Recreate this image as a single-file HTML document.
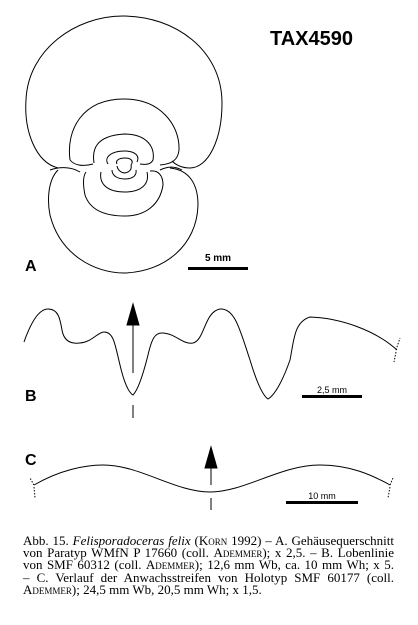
<!DOCTYPE html>
<html><head><meta charset="utf-8"><style>
html,body{margin:0;padding:0;background:#fff;}
#wrap{position:relative;width:418px;height:625px;overflow:hidden;}
svg{position:absolute;left:0;top:0;}
.cap{position:absolute;left:23px;top:535px;width:371px;font-family:"Liberation Serif",serif;font-size:13px;line-height:12.2px;color:#000;}
.cap div{text-align:justify;text-align-last:justify;white-space:nowrap;}
.cap div.last{text-align-last:left;}
.sc{font-variant:small-caps;}
</style></head><body>
<div id="wrap">
<svg width="418" height="625" viewBox="0 0 418 625" fill="none" stroke="#000" stroke-width="1">
<text x="270" y="45" font-family="Liberation Sans,sans-serif" font-weight="bold" font-size="20" fill="#000" stroke="none">TAX4590</text>
<g>
<path d="M58,168 C35,162 24,130 26,100 C28,50 75,16 123,16 C175,16 222,50 222,103 C222,140 208,168 190,168 C180,168 175,164 172,161"/>
<path d="M70,160 C66,130 82,99 124,99 C160,99 180,125 179,150 C178,160 172,164 160,165"/>
<path d="M70,160 C74,165 82,167 93,164"/>
<path d="M94,163 C92,150 95,136 124,134 C148,134 155,148 153,160 C151,164 147,165 140,164"/>
<path d="M108,164 C104,158 110,151 125,151 C135,151 140,156 137,162"/>
<path d="M117,164 C115,160 120,158 125,158 C131,158 134,161 131,165"/>
<path d="M117,166 C118,171 122,173 125,173 C130,172 132,169 131,165"/>
<path d="M58,170 C48,180 47,200 50,215 C60,255 95,273 124,273 C165,272 197,245 198,205 C198,185 190,170 170,168"/>
<path d="M86,172 C83,176 83,185 85,195 C90,210 105,216 125,216 C145,216 160,205 163,185 C163,175 158,170 150,171"/>
<path d="M101,172 C99,182 105,192 125,192 C140,192 150,185 147,172"/>
<path d="M112,170 C112,176 118,179 125,179 C132,179 137,176 136,170"/>
<path d="M50,170 C58,167 70,166 80,172"/><path d="M160,170 C168,166 175,166 182,170"/>
</g>
<text x="25" y="271" font-family="Liberation Sans,sans-serif" font-weight="bold" font-size="16" fill="#000" stroke="none">A</text>
<text x="218" y="261" text-anchor="middle" font-family="Liberation Sans,sans-serif" font-weight="bold" font-size="10" fill="#000" stroke="none">5 mm</text>
<rect x="188" y="267" width="60" height="3" fill="#000" stroke="none"/>
<g>
<path d="M24,342 C30,325 38,309 48,309 C58,309 60,318 62,330 C64,342 72,344 80,343 C92,342 98,332 104,332 C114,332 115,345 120,365 C124,382 128,392 133,395 C138,390 143,375 148,355 C152,338 155,333 162,333 C175,333 183,345 193,343 C205,340 204,312 220,309 C235,308 240,330 250,360 C256,380 262,395 268,399 C275,395 283,380 290,360 C294,340 294,322 310,317 C340,318 375,330 397,350"/>
<path d="M396,350 L400,338 M396,352 L394,362" stroke-dasharray="1.5,1.5"/>
<line x1="133" y1="373" x2="133" y2="320"/>
<polygon points="133,304 127,325 139,325" fill="#000"/>
<line x1="133" y1="405" x2="133" y2="418"/>
</g>
<text x="25" y="401" font-family="Liberation Sans,sans-serif" font-weight="bold" font-size="16" fill="#000" stroke="none">B</text>
<text x="332" y="393" text-anchor="middle" font-family="Liberation Sans,sans-serif" font-size="9" fill="#000" stroke="none">2,5 mm</text>
<rect x="302" y="395" width="60" height="3" fill="#000" stroke="none"/>
<g>
<path d="M34,485 C60,470 85,465 103,465 C140,465 175,492 210,492 C245,492 280,465 320,465 C350,465 372,475 390,485"/>
<path d="M34,485 L30,478 M34,487 L35,498 M390,485 L393,478 M390,487 L388,498" stroke-dasharray="1.5,1.5"/>
<line x1="211" y1="485" x2="211" y2="465"/>
<polygon points="211,447 205,468 217,468" fill="#000"/>
<line x1="211" y1="498" x2="211" y2="510"/>
</g>
<text x="25" y="465" font-family="Liberation Sans,sans-serif" font-weight="bold" font-size="16" fill="#000" stroke="none">C</text>
<text x="322" y="499" text-anchor="middle" font-family="Liberation Sans,sans-serif" font-size="9" fill="#000" stroke="none">10 mm</text>
<rect x="286" y="501" width="72" height="3" fill="#000" stroke="none"/>
</svg>
<div class="cap">
<div>Abb. 15. <i>Felisporadoceras felix</i> (<span class="sc">Korn</span> 1992) – A. Gehäusequerschnitt</div>
<div>von Paratyp WMfN P 17660 (coll. <span class="sc">Ademmer</span>); x 2,5. – B. Lobenlinie</div>
<div>von SMF 60312 (coll. <span class="sc">Ademmer</span>); 12,6 mm Wb, ca. 10 mm Wh; x 5.</div>
<div>– C. Verlauf der Anwachsstreifen von Holotyp SMF 60177 (coll.</div>
<div class="last"><span class="sc">Ademmer</span>); 24,5 mm Wb, 20,5 mm Wh; x 1,5.</div>
</div>
</div>
</body></html>
